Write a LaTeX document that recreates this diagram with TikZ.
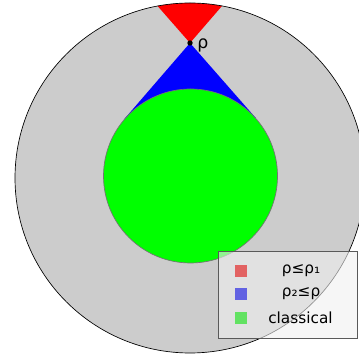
\documentclass[tikz,border=0pt]{standalone}
\usepackage{fontspec}
\setmainfont{DejaVu Sans}
\usetikzlibrary{positioning,calc,backgrounds}
\definecolor{keyred}{RGB}{226,98,98}
\definecolor{keyblue}{RGB}{98,98,226}
\definecolor{keygreen}{RGB}{98,226,98}

\begin{document}
\begin{tikzpicture}[x=0.75pt, y=0.75pt,
    font=\fontsize{11.5}{13}\selectfont,
       rim/.style = {circle, draw, line width=0.5pt, inner sep=0pt},
       key/.style = {rectangle, inner sep=0pt, minimum size=8.6pt, fill=#1},
      keyt/.style = {inner sep=1pt},
    ]
\useasboundingbox (0,0) rectangle (359,363);
\clip (0,0) rectangle (359,363);
    % classical region and outer disc
    \node[rim, draw=black!55, fill=green, minimum size=130.5pt] (cl) at (190.5,187) {};
    \node[rim, minimum size=262.5pt] (outer) at (190,185) {};
    \coordinate (rho) at (190,320);
    \coordinate (t1) at (tangent cs:node=cl, point={(rho)}, solution=1);
    \coordinate (t2) at (tangent cs:node=cl, point={(rho)}, solution=2);
    %% cones (behind)
    \begin{scope}[on background layer]
    \clip (0,0) rectangle (359,363);
    \fill[gray!40] (outer.center) circle (175);
    \begin{scope}
        \clip (outer.center) circle (175);
        \fill[red] (rho) -- ($(rho)!-1!(t1)$) -- ($(rho)!-1!(t2)$) -- cycle;
    \end{scope}
    \fill[blue] (rho) -- (t1) -- (t2) -- cycle;
    \end{scope}
    %
    \fill (rho) circle (2.7);
    \node[anchor=west, inner sep=0pt, font=\fontsize{13}{15}\selectfont]
        (rholab) at ($(rho)+(7,-2)$) {ρ};
    %% legend
    \node[draw=black!65, line width=0.6pt, fill=gray!12, fill opacity=0.6,
          minimum width=104.25pt, minimum height=65.25pt, inner sep=0pt,
          anchor=south west] (legend) at (218,24) {};
    \node[key=keyred]   (k1) at (241,92) {};
    \node[key=keyblue]  (k2) at (241,69) {};
    \node[key=keygreen] (k3) at (241,45) {};
    \node[keyt] (l1) at (301,92) {ρ≤ρ₁};
    \node[keyt] (l2) at (301,69) {ρ₂≤ρ};
    \node[keyt] (l3) at (300.5,45) {classical};
\end{tikzpicture}
\end{document}
